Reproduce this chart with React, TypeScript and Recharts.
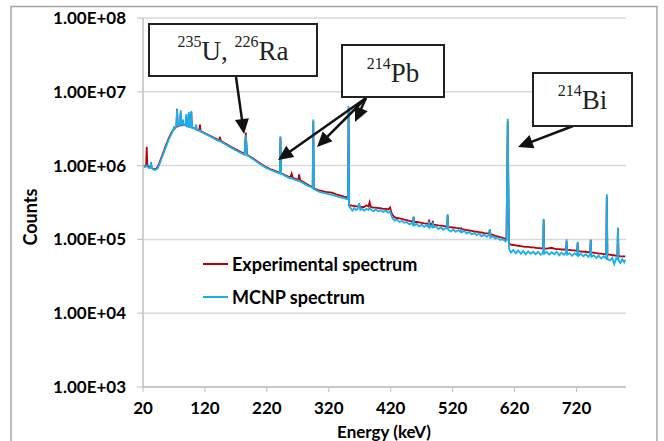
import React from 'react';
import { LineChart, Line, XAxis, YAxis, CartesianGrid, Legend } from 'recharts';

// Energy (keV)
const energy = [
  20, 23, 25, 26, 27, 30, 32, 33, 34, 37,
  40, 44, 50, 56, 62, 67, 70, 72, 74, 75,
  76, 79, 81, 82, 85, 86, 89, 90, 91, 93,
  94, 95, 97, 98, 99, 104, 106, 107, 111, 112,
  113, 120, 130, 138, 143, 144, 146, 155, 165, 175,
  184, 186, 188, 198, 209, 218, 228, 236, 241, 242,
  243, 250, 258, 260, 262, 271, 272, 274, 285, 294,
  295, 296, 305, 315, 325, 335, 345, 351, 352,
  353, 356, 358, 361, 364, 367, 369, 371, 374, 377,
  381, 384, 386, 388, 392, 396, 400, 404, 408, 412,
  416, 419, 422, 426, 430, 434, 438, 442, 446, 450,
  454, 456, 457, 458, 462, 466, 470, 474, 478, 481,
  482, 483, 485, 487, 488, 489, 493, 497, 501, 505,
  508, 511, 512, 513, 517, 521, 525, 529, 533, 534,
  535, 539, 543, 547, 551, 555, 559, 563, 567, 571,
  575, 579, 580, 581, 585, 589, 593, 597, 601, 605,
  607, 609, 611, 614, 618, 622, 626, 630, 634, 638,
  642, 646, 650, 654, 658, 662, 666, 667, 668, 672,
  676, 680, 684, 688, 692, 696, 700, 703, 704, 705,
  709, 713, 717, 721, 722, 723, 727, 731, 735, 739,
  742, 743, 744, 748, 752, 756, 760, 764, 768, 769,
  770, 774, 778, 781, 784, 786, 787, 788, 791, 794,
  797, 799,
];

// Experimental spectrum counts
const experimental = [
  1.0e6, 9.7e5, 1.0e6, 1.8e6, 1.0e6, 9.6e5, 9.5e5, 1.05e6, 9.3e5, 9.0e5,
  8.9e5, 9.6e5, 1.3e6, 1.8e6, 2.4e6, 2.9e6, 3.1e6, 3.3e6, 3.4e6, 5.9e6,
  3.4e6, 3.5e6, 5.2e6, 3.5e6, 3.6e6, 3.6e6, 3.5e6, 4.6e6, 3.5e6, 3.4e6,
  5.0e6, 3.4e6, 3.35e6, 5.3e6, 3.3e6, 3.2e6, 3.1e6, 3.1e6, 3.0e6, 3.6e6,
  2.95e6, 2.75e6, 2.5e6, 2.3e6, 2.2e6, 2.45e6, 2.15e6, 1.95e6, 1.75e6, 1.57e6,
  1.43e6, 2.8e6, 1.4e6, 1.25e6, 1.08e6, 9.6e5, 8.8e5, 8.3e5, 8.0e5, 2.4e6,
  7.9e5, 7.4e5, 6.9e5, 7.8e5, 6.8e5, 6.4e5, 7.6e5, 6.3e5, 5.6e5, 5.1e5,
  4.0e6, 4.9e5, 4.6e5, 4.4e5, 4.3e5, 4.0e5, 3.8e5, 3.7e5, 6.0e6,
  2.9e5, 2.88e5, 2.85e5, 2.85e5, 2.8e5, 2.8e5, 2.85e5, 2.78e5, 2.75e5, 2.75e5,
  2.9e5, 2.8e5, 3.2e5, 2.75e5, 2.7e5, 2.7e5, 2.65e5, 2.65e5, 2.6e5, 2.6e5,
  2.55e5, 2.7e5, 2.2e5, 2.0e5, 1.95e5, 1.93e5, 1.9e5, 1.85e5, 1.82e5, 1.78e5,
  1.76e5, 1.75e5, 2.0e5, 1.72e5, 1.72e5, 1.7e5, 1.68e5, 1.65e5, 1.64e5, 1.62e5,
  1.85e5, 1.6e5, 1.62e5, 1.6e5, 1.78e5, 1.58e5, 1.57e5, 1.55e5, 1.54e5, 1.52e5,
  1.5e5, 1.5e5, 2.1e5, 1.48e5, 1.46e5, 1.45e5, 1.43e5, 1.42e5, 1.4e5, 1.42e5,
  1.38e5, 1.36e5, 1.34e5, 1.32e5, 1.3e5, 1.28e5, 1.27e5, 1.25e5, 1.24e5, 1.22e5,
  1.21e5, 1.2e5, 1.35e5, 1.18e5, 1.15e5, 1.12e5, 1.1e5, 1.07e5, 1.05e5, 1.02e5,
  1.0e5, 4.0e6, 8.8e4, 8.5e4, 8.4e4, 8.3e4, 8.2e4, 8.1e4, 8.0e4, 7.9e4,
  7.9e4, 7.8e4, 7.8e4, 7.7e4, 7.6e4, 7.6e4, 7.5e4, 1.85e5, 7.5e4, 7.5e4,
  7.6e4, 7.7e4, 7.5e4, 7.4e4, 7.4e4, 7.3e4, 7.3e4, 7.3e4, 9.5e4, 7.2e4,
  7.2e4, 7.1e4, 7.1e4, 7.0e4, 9.0e4, 6.9e4, 6.9e4, 6.8e4, 6.8e4, 6.7e4,
  6.7e4, 9.8e4, 6.6e4, 6.6e4, 6.5e4, 6.4e4, 6.4e4, 6.3e4, 6.3e4, 3.8e5,
  6.2e4, 6.2e4, 6.1e4, 6.1e4, 6.0e4, 6.0e4, 1.4e5, 6.0e4, 5.9e4, 5.9e4,
  5.9e4, 5.9e4,
];

// MCNP spectrum counts
const mcnp = [
  1.0e6, 9.6e5, 9.8e5, 1.0e6, 9.7e5, 9.2e5, 9.4e5, 1.12e6, 9.2e5, 8.8e5,
  8.7e5, 9.2e5, 1.25e6, 1.7e6, 2.3e6, 2.8e6, 3.3e6, 3.2e6, 3.4e6, 5.8e6,
  3.5e6, 3.5e6, 5.6e6, 3.5e6, 4.2e6, 3.5e6, 3.5e6, 5.0e6, 3.4e6, 3.4e6,
  5.3e6, 3.4e6, 3.3e6, 5.5e6, 3.3e6, 3.15e6, 3.6e6, 3.05e6, 2.95e6, 3.0e6,
  2.9e6, 2.7e6, 2.45e6, 2.25e6, 2.15e6, 2.2e6, 2.1e6, 1.9e6, 1.7e6, 1.53e6,
  1.4e6, 2.6e6, 1.38e6, 1.22e6, 1.05e6, 9.4e5, 8.6e5, 8.1e5, 7.8e5, 2.5e6,
  7.8e5, 7.2e5, 6.7e5, 6.8e5, 6.6e5, 6.2e5, 6.3e5, 6.1e5, 5.4e5, 5.0e5,
  4.2e6, 4.8e5, 4.4e5, 4.2e5, 4.0e5, 3.8e5, 3.6e5, 3.5e5, 6.4e6,
  2.8e5, 2.6e5, 2.45e5, 2.65e5, 2.5e5, 2.6e5, 3.1e5, 2.5e5, 2.6e5, 2.45e5,
  2.6e5, 2.5e5, 2.7e5, 2.55e5, 2.4e5, 2.55e5, 2.4e5, 2.5e5, 2.35e5, 2.45e5,
  2.3e5, 2.4e5, 2.0e5, 1.8e5, 1.85e5, 1.72e5, 1.78e5, 1.68e5, 1.72e5, 1.6e5,
  1.66e5, 1.58e5, 2.05e5, 1.55e5, 1.62e5, 1.5e5, 1.58e5, 1.48e5, 1.55e5, 1.47e5,
  1.75e5, 1.45e5, 1.52e5, 1.48e5, 1.7e5, 1.45e5, 1.5e5, 1.38e5, 1.45e5, 1.35e5,
  1.42e5, 1.4e5, 2.2e5, 1.35e5, 1.28e5, 1.36e5, 1.27e5, 1.34e5, 1.26e5, 1.38e5,
  1.25e5, 1.3e5, 1.2e5, 1.26e5, 1.17e5, 1.22e5, 1.14e5, 1.2e5, 1.1e5, 1.16e5,
  1.08e5, 1.15e5, 1.38e5, 1.06e5, 1.1e5, 1.02e5, 1.06e5, 9.8e4, 1.01e5, 9.4e4,
  9.6e4, 4.3e6, 7.5e4, 6.6e4, 7.2e4, 6.5e4, 7.1e4, 6.4e4, 7.0e4, 6.3e4,
  6.9e4, 6.4e4, 6.8e4, 6.3e4, 6.8e4, 6.2e4, 6.6e4, 1.9e5, 6.4e4, 6.8e4,
  6.2e4, 6.7e4, 6.3e4, 6.8e4, 6.1e4, 6.6e4, 6.2e4, 6.6e4, 1.0e5, 6.2e4,
  6.5e4, 6.0e4, 6.5e4, 6.1e4, 9.3e4, 6.0e4, 6.4e4, 5.9e4, 6.3e4, 5.8e4,
  6.2e4, 1.0e5, 5.8e4, 6.1e4, 5.6e4, 6.0e4, 5.5e4, 5.9e4, 5.5e4, 4.1e5,
  5.4e4, 5.2e4, 5.6e4, 4.6e4, 5.5e4, 5.4e4, 1.45e5, 5.2e4, 4.8e4, 5.4e4,
  4.9e4, 5.3e4,
];

const xTicks = [20, 120, 220, 320, 420, 520, 620, 720];
const yTicks = [1e3, 1e4, 1e5, 1e6, 1e7, 1e8];
const seriesNames = ['Experimental spectrum', 'MCNP spectrum'];
const seriesColors = ['#C00000', '#17B0EC'];

const data = energy.map((e, i) => ({ e, exp: experimental[i], mcnp: mcnp[i] }));

const fmtY = (v: number) => {
  const p = Math.round(Math.log10(v));
  return `1.00E+${String(p).padStart(2, '0')}`;
};

const SANS = 'Lato, "Open Sans", sans-serif';
const SERIF = '"Liberation Serif", "Times New Roman", serif';

function Arrow({ x1, y1, x2, y2 }: { x1: number; y1: number; x2: number; y2: number }) {
  const dx = x2 - x1;
  const dy = y2 - y1;
  const len = Math.sqrt(dx * dx + dy * dy);
  const ux = dx / len;
  const uy = dy / len;
  const hl = 15;
  const hw = 7;
  const bx = x2 - ux * hl;
  const by = y2 - uy * hl;
  const px = -uy;
  const py = ux;
  const pts = `${x2},${y2} ${bx + px * hw},${by + py * hw} ${bx - px * hw},${by - py * hw}`;
  return (
    <g>
      <line x1={x1} y1={y1} x2={bx + ux * 2} y2={by + uy * 2} stroke="#111" strokeWidth={2.5} />
      <polygon points={pts} fill="#111" />
    </g>
  );
}

function LegendContent() {
  return (
    <svg width={240} height={64}>
      <line x1={3} y1={14} x2={28} y2={14} stroke={seriesColors[0]} strokeWidth={2} />
      <text x={32} y={20.5} fontFamily={SANS} fontWeight={700} fontSize={18} fill="#000">
        {seriesNames[0]}
      </text>
      <line x1={3} y1={47} x2={28} y2={47} stroke={seriesColors[1]} strokeWidth={2} />
      <text x={32} y={53.5} fontFamily={SANS} fontWeight={700} fontSize={18} fill="#000">
        {seriesNames[1]}
      </text>
    </svg>
  );
}

export default function App() {
  const tickStyle = { fill: '#000', fontSize: 17, fontWeight: 700, fontFamily: SANS };
  return (
    <div style={{ position: 'absolute', left: 0, top: 0, width: 664, height: 441, overflow: 'hidden', background: '#fff' }}>
      <LineChart width={664} height={441} data={data} margin={{ top: 18, right: 38, bottom: 0, left: 0 }}>
        <CartesianGrid vertical={false} stroke="#D9D9D9" strokeWidth={1.5} />
        <XAxis
          dataKey="e"
          type="number"
          domain={[20, 800]}
          ticks={xTicks}
          interval={0}
          allowDataOverflow
          height={54}
          tickSize={5}
          tickMargin={10}
          axisLine={{ stroke: '#BFBFBF', strokeWidth: 1.5 }}
          tickLine={{ stroke: '#BFBFBF' }}
          tick={tickStyle}
        />
        <YAxis
          type="number"
          scale="log"
          domain={[1e3, 1e8]}
          ticks={yTicks}
          interval={0}
          allowDataOverflow
          width={143}
          tickSize={6}
          tickMargin={11}
          tickFormatter={fmtY}
          axisLine={{ stroke: '#BFBFBF', strokeWidth: 1.5 }}
          tickLine={{ stroke: '#BFBFBF' }}
          tick={tickStyle}
        />
        <Legend
          layout="vertical"
          align="center"
          verticalAlign="middle"
          content={() => <LegendContent />}
          wrapperStyle={{ left: 200, top: 250, width: 240, height: 64 }}
        />
        <Line
          type="linear"
          dataKey="exp"
          name={seriesNames[0]}
          stroke={seriesColors[0]}
          strokeWidth={1.8}
          dot={false}
          activeDot={false}
          isAnimationActive={false}
        />
        <Line
          type="linear"
          dataKey="mcnp"
          name={seriesNames[1]}
          stroke={seriesColors[1]}
          strokeWidth={1.8}
          dot={false}
          activeDot={false}
          isAnimationActive={false}
        />
      </LineChart>
      <svg
        width={664}
        height={441}
        style={{ position: 'absolute', left: 0, top: 0, pointerEvents: 'none' }}
      >
        <rect x={11} y={6.5} width={646} height={460} fill="none" stroke="#A6A6A6" strokeWidth={1.5} />
        <text
          x={31}
          y={217}
          transform="rotate(-90 31 217)"
          textAnchor="middle"
          dy="0.35em"
          fontFamily={SANS}
          fontWeight={700}
          fontSize={18}
          fill="#000"
        >
          Counts
        </text>
        <text x={384} y={438} textAnchor="middle" fontFamily={SANS} fontWeight={700} fontSize={17} fill="#000">
          Energy (keV)
        </text>

        <Arrow x1={236} y1={77} x2={244} y2={134} />
        <Arrow x1={366} y1={98} x2={278} y2={160} />
        <Arrow x1={366} y1={98} x2={317} y2={147} />
        <Arrow x1={366} y1={98} x2={355} y2={122} />
        <Arrow x1={573} y1={126} x2={518} y2={147} />

        <rect x={149} y={24} width={168} height={52} fill="#fff" stroke="#222" strokeWidth={2} />
        <text x={233} y={60} textAnchor="middle" fontFamily={SERIF} fill="#222">
          <tspan fontSize={16} dy={-13}>235</tspan>
          <tspan fontSize={27} dy={13}>U, </tspan>
          <tspan fontSize={16} dy={-13}>226</tspan>
          <tspan fontSize={27} dy={13}>Ra</tspan>
        </text>

        <rect x={342} y={45} width={102} height={52} fill="#fff" stroke="#222" strokeWidth={2} />
        <text x={393} y={82} textAnchor="middle" fontFamily={SERIF} fill="#222">
          <tspan fontSize={16} dy={-13}>214</tspan>
          <tspan fontSize={27} dy={13}>Pb</tspan>
        </text>

        <rect x={533} y={73} width={99} height={53} fill="#fff" stroke="#222" strokeWidth={2} />
        <text x={582.5} y={109} textAnchor="middle" fontFamily={SERIF} fill="#222">
          <tspan fontSize={16} dy={-13}>214</tspan>
          <tspan fontSize={27} dy={13}>Bi</tspan>
        </text>
      </svg>
    </div>
  );
}
